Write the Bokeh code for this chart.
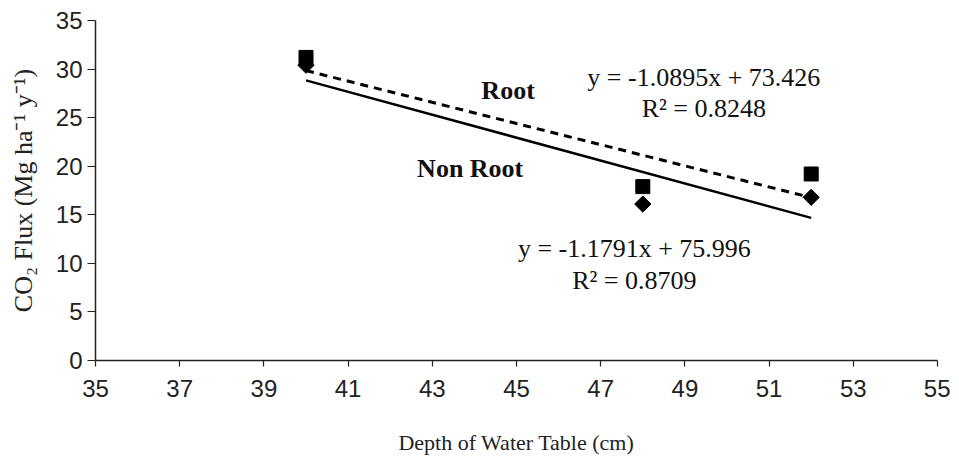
from bokeh.plotting import figure
from bokeh.models import Label, FixedTicker, ColumnDataSource
from bokeh.embed import file_html
from bokeh.resources import INLINE
import numpy as np

# ---- data ----
depth = [40, 48, 52]
root_flux = [31.2, 17.9, 19.2]        # squares
nonroot_flux = [30.4, 16.1, 16.8]     # diamonds
root_fit = (-1.0895, 73.426)          # dashed
nonroot_fit = (-1.1791, 75.996)       # solid
root_r2 = 0.8248
nonroot_r2 = 0.8709
x_ticks = [35, 37, 39, 41, 43, 45, 47, 49, 51, 53, 55]
y_ticks = [0, 5, 10, 15, 20, 25, 30, 35]

p = figure(width=950, height=458, x_range=(35, 55), y_range=(0, 35),
           output_backend="svg", toolbar_location=None,
           min_border_left=95, min_border_right=13, min_border_top=20, min_border_bottom=98)
p.outline_line_color = None
p.xgrid.grid_line_color = None
p.ygrid.grid_line_color = None
p.background_fill_color = "white"

for ax in (p.xaxis[0], p.yaxis[0]):
    ax.axis_line_color = "#222222"
    ax.axis_line_width = 1.5
    ax.major_tick_line_color = "#222222"
    ax.major_tick_line_width = 1.2
    ax.major_tick_in = 0
    ax.minor_tick_line_color = None
    ax.major_label_text_font = "Liberation Sans"
    ax.major_label_text_font_size = "24px"
    ax.major_label_text_color = "#222222"
    ax.axis_label_text_font = "Liberation Serif"
    ax.axis_label_text_font_style = "normal"
    ax.axis_label_text_color = "#222222"

p.xaxis.axis_label_text_font_size = "22px"
p.yaxis.axis_label_text_font_size = "26px"
p.xaxis.ticker = FixedTicker(ticks=x_ticks)
p.yaxis.ticker = FixedTicker(ticks=y_ticks)
p.xaxis.major_tick_out = 6
p.yaxis.major_tick_out = 8
p.xaxis.major_label_standoff = 13
p.yaxis.major_label_standoff = 5
p.xaxis.axis_label = "Depth of Water Table (cm)"
p.yaxis.axis_label = "CO\u2082 Flux (Mg ha\u207b\u00b9 y\u207b\u00b9)"
p.xaxis.axis_label_standoff = 30
p.yaxis.axis_label_standoff = 15

# trendlines over the data range
xs = np.array([min(depth), max(depth)], dtype=float)
p.line(xs, root_fit[0] * xs + root_fit[1], line_color="black", line_width=3, line_dash="8 6")
p.line(xs, nonroot_fit[0] * xs + nonroot_fit[1], line_color="black", line_width=2.5)

src = ColumnDataSource(dict(x=depth, r=root_flux, n=nonroot_flux))
p.scatter("x", "r", source=src, marker="square", size=14, fill_color="black", line_color="black")
p.scatter("x", "n", source=src, marker="square", size=11.5, angle=np.pi / 4,
          fill_color="black", line_color="black")

def lab(x, y, t, bold=False):
    p.add_layout(Label(x=x, y=y, text=t, text_font="Liberation Serif", text_font_size="26px",
                       text_font_style="bold" if bold else "normal", text_color="#111111",
                       text_align="center", text_baseline="middle"))

lab(44.8, 27.8, "Root", True)
lab(43.9, 19.8, "Non Root", True)
lab(49.45, 29.1, f"y = {root_fit[0]}x + {root_fit[1]}")
lab(49.45, 25.9, f"R\u00b2 = {root_r2}")
lab(47.8, 11.5, f"y = {nonroot_fit[0]}x + {nonroot_fit[1]}")
lab(47.8, 8.2, f"R\u00b2 = {nonroot_r2}")

open("out.html", "w").write(file_html(p, INLINE))
